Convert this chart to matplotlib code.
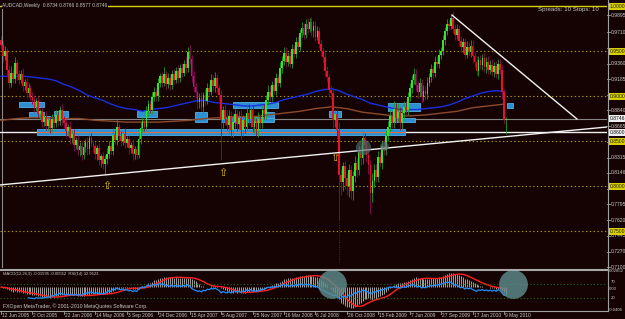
import matplotlib
matplotlib.use("Agg")
import matplotlib.pyplot as plt
from matplotlib.lines import Line2D
from matplotlib.patches import Rectangle
from matplotlib.transforms import blended_transform_factory
import numpy as np
import pandas as pd

plt.rcParams['font.family'] = ['Liberation Sans', 'DejaVu Sans']

# ---------------- data (AUDCAD weekly, one row = 16 weeks) ----------------
first_date = "2005-06-12"
first_open = 0.962
closes = [
    0.957, 0.944, 0.950, 0.929, 0.915, 0.926, 0.919, 0.937, 0.924, 0.918, 0.925, 0.911, 0.916, 0.903, 0.909, 0.899,
    0.896, 0.888, 0.894, 0.880, 0.883, 0.871, 0.877, 0.867, 0.873, 0.864, 0.875, 0.870, 0.879, 0.872, 0.884, 0.874,
    0.870, 0.861, 0.866, 0.853, 0.858, 0.846, 0.851, 0.840, 0.845, 0.834, 0.843, 0.849, 0.841, 0.853, 0.847, 0.844,
    0.836, 0.842, 0.829, 0.833, 0.824, 0.830, 0.836, 0.845, 0.839, 0.857, 0.851, 0.866, 0.856, 0.850, 0.858, 0.848,
    0.852, 0.842, 0.846, 0.836, 0.841, 0.835, 0.852, 0.864, 0.872, 0.866, 0.883, 0.891, 0.885, 0.899, 0.905, 0.900,
    0.914, 0.922, 0.915, 0.925, 0.913, 0.920, 0.912, 0.924, 0.918, 0.928, 0.920, 0.931, 0.926, 0.936, 0.931, 0.949,
    0.941, 0.922, 0.910, 0.904, 0.893, 0.898, 0.888, 0.901, 0.895, 0.909, 0.905, 0.918, 0.911, 0.920, 0.909, 0.901,
    0.873, 0.884, 0.875, 0.868, 0.878, 0.862, 0.871, 0.880, 0.869, 0.876, 0.862, 0.873, 0.866, 0.881, 0.874, 0.884,
    0.866, 0.872, 0.861, 0.875, 0.870, 0.885, 0.880, 0.896, 0.905, 0.899, 0.912, 0.906, 0.920, 0.915, 0.931, 0.939,
    0.948, 0.938, 0.944, 0.936, 0.952, 0.947, 0.960, 0.955, 0.970, 0.976, 0.968, 0.980, 0.975, 0.982, 0.972, 0.978,
    0.966, 0.972, 0.958, 0.950, 0.943, 0.928, 0.921, 0.907, 0.903, 0.873, 0.880, 0.862, 0.812, 0.804, 0.822, 0.809,
    0.800, 0.818, 0.794, 0.811, 0.826, 0.818, 0.838, 0.831, 0.853, 0.846, 0.835, 0.823, 0.792, 0.806, 0.818, 0.810,
    0.832, 0.826, 0.845, 0.840, 0.856, 0.866, 0.878, 0.871, 0.886, 0.876, 0.882, 0.870, 0.881, 0.888, 0.884, 0.899,
    0.909, 0.918, 0.924, 0.912, 0.905, 0.914, 0.899, 0.906, 0.902, 0.915, 0.921, 0.930, 0.926, 0.938, 0.936, 0.946,
    0.950, 0.962, 0.972, 0.980, 0.978, 0.987, 0.975, 0.968, 0.974, 0.961, 0.954, 0.960, 0.946, 0.955, 0.949, 0.956,
    0.944, 0.938, 0.928, 0.940, 0.935, 0.942, 0.932, 0.938, 0.929, 0.935, 0.927, 0.933, 0.925, 0.936, 0.929, 0.905,
    0.8734, 0.8746,
]
# wick lengths above / below the body, in thousandths
wick_up = [
    5, 4, 6, 3, 5, 7, 4, 6, 3, 5, 4, 6, 3, 4, 5, 3,
    5, 3, 4, 6, 3, 5, 4, 6, 3, 4, 5, 3, 6, 4, 5, 7,
    4, 5, 3, 6, 4, 5, 3, 6, 4, 5, 6, 3, 5, 4, 6, 3,
    5, 4, 6, 3, 5, 4, 6, 5, 4, 7, 5, 8, 4, 5, 3, 6,
    4, 5, 3, 6, 4, 5, 6, 7, 5, 4, 6, 5, 3, 6, 5, 4,
    6, 4, 5, 7, 3, 6, 4, 5, 6, 4, 7, 5, 6, 4, 7, 5,
    8, 5, 6, 4, 3, 5, 6, 4, 7, 5, 4, 6, 5, 7, 4, 3,
    6, 5, 7, 10, 6, 5, 8, 6, 5, 7, 8, 6, 5, 7, 10, 6,
    5, 6, 4, 7, 5, 4, 6, 5, 7, 6, 5, 8, 6, 5, 7, 6,
    6, 7, 5, 6, 6, 5, 6, 7, 5, 6, 5, 6, 7, 5, 6, 5,
    5, 6, 5, 4, 5, 6, 5, 4, 5, 7, 5, 6, 9, 7, 5, 6,
    6, 7, 5, 6, 7, 5, 6, 8, 7, 6, 5, 7, 6, 8, 7, 6,
    7, 6, 5, 7, 6, 6, 7, 5, 8, 6, 10, 6, 5, 7, 6, 5,
    6, 5, 7, 6, 5, 6, 5, 6, 5, 6, 5, 6, 5, 6, 7, 6,
    5, 6, 5, 6, 5, 3, 6, 5, 6, 5, 6, 5, 5, 6, 5, 6,
    6, 5, 6, 5, 6, 5, 6, 5, 6, 5, 6, 5, 6, 5, 5, 6,
    3, 2,
]
wick_dn = [
    5, 6, 4, 7, 6, 5, 4, 5, 6, 5, 4, 5, 4, 5, 4, 5,
    5, 6, 5, 4, 6, 5, 4, 5, 6, 5, 4, 5, 4, 5, 4, 6,
    5, 6, 5, 6, 5, 7, 5, 6, 7, 5, 4, 5, 6, 5, 4, 6,
    6, 7, 6, 8, 5, 12, 6, 5, 4, 5, 4, 5, 6, 5, 4, 6,
    5, 6, 5, 7, 6, 5, 4, 5, 4, 5, 4, 5, 4, 5, 4, 5,
    5, 4, 5, 4, 5, 4, 5, 4, 5, 4, 5, 4, 5, 4, 5, 4,
    5, 6, 5, 6, 7, 6, 5, 7, 5, 4, 5, 4, 5, 6, 5, 7,
    44, 8, 7, 6, 10, 8, 7, 6, 8, 7, 10, 6, 7, 5, 6, 8,
    6, 7, 5, 6, 5, 6, 5, 6, 5, 4, 5, 4, 5, 4, 5, 5,
    5, 6, 5, 4, 5, 4, 5, 4, 5, 4, 5, 4, 5, 4, 5, 6,
    5, 4, 5, 6, 5, 6, 5, 7, 6, 8, 7, 10, 50, 14, 10, 12,
    10, 12, 8, 10, 7, 8, 6, 8, 7, 6, 8, 10, 23, 10, 7, 6,
    6, 5, 7, 6, 5, 6, 5, 6, 7, 6, 5, 8, 7, 5, 6, 5,
    5, 6, 5, 6, 7, 5, 6, 5, 6, 5, 4, 5, 6, 5, 4, 5,
    5, 4, 5, 4, 5, 4, 5, 6, 5, 4, 5, 6, 5, 4, 5, 6,
    7, 6, 5, 6, 5, 6, 5, 6, 5, 4, 5, 6, 5, 6, 5, 8,
    5, 16,
]
spike_bar, spike_low = 172, 0.716

# moving averages (blue every 4 bars, brown every 8 bars)
ma_blue = [
    0.922, 0.922, 0.922, 0.922, 0.921, 0.920, 0.919, 0.917,
    0.913, 0.910, 0.906, 0.901, 0.898, 0.895, 0.891, 0.888,
    0.886, 0.885, 0.883, 0.885, 0.886, 0.887, 0.889, 0.891,
    0.893, 0.895, 0.895, 0.893, 0.892, 0.891, 0.890, 0.889,
    0.889, 0.890, 0.891, 0.893, 0.896, 0.898, 0.900, 0.902,
    0.905, 0.907, 0.908, 0.906, 0.902, 0.899, 0.896, 0.892,
    0.890, 0.888, 0.886, 0.885, 0.885, 0.885, 0.886, 0.887,
    0.888, 0.890, 0.893, 0.897, 0.900, 0.903, 0.905, 0.906,
    0.905,
]
ma_brown = [
    0.873, 0.875, 0.876, 0.876, 0.875, 0.875, 0.873, 0.872,
    0.871, 0.871, 0.871, 0.872, 0.873, 0.875, 0.876, 0.877,
    0.877, 0.879, 0.881, 0.883, 0.886, 0.888, 0.886, 0.882,
    0.880, 0.878, 0.878, 0.879, 0.881, 0.883, 0.887, 0.889,
    0.891,
]

round_levels = [1.00, 0.95, 0.90, 0.85, 0.80, 0.75]
support_level = 0.8600
price_ticks = [0.9895, 0.9710, 0.9535, 0.9360, 0.9185, 0.9010, 0.8840, 0.8665, 0.8490,
               0.8315, 0.8146, 0.7970, 0.7795, 0.7620, 0.7445, 0.7270, 0.7100]

# zones: (first bar, last bar, top, bottom)
zones = [
    (9.2, 21.9, 0.8934, 0.8878), (14.2, 21.9, 0.8823, 0.8767), (21.4, 24.9, 0.8778, 0.8745),
    (27.0, 34.1, 0.8834, 0.8767), (69.2, 79.4, 0.8834, 0.8767), (98.7, 104.8, 0.8823, 0.8712),
    (118.1, 141.0, 0.8934, 0.8867), (112.0, 138.9, 0.8767, 0.8712), (134.4, 139.0, 0.8823, 0.8756),
    (166.9, 173.0, 0.8834, 0.8767), (196.9, 213.2, 0.8923, 0.8834), (198.0, 210.7, 0.8756, 0.8712),
    (257.5, 260.6, 0.8923, 0.8867),
]
band = (18.3, 205.6, 0.8634, 0.8567)
trend_up = [(-0.5, 0.8012), (308.4, 0.8656)]
trend_down = [(229.5, 0.9900), (293.1, 0.8745)]
arrows = [(54.0, 0.8001), (113.0, 0.8145), (170.0, 0.8312)]
blobs = [(184.3, 0.8434, 120), (195.0, 0.8445, 40)]
macd_circles = [168.4, 260.6]

# ---------------- style ----------------
BG = '#150303'
AXC = '#a0a0a0'
TXT = '#c8c8c8'
BULL, BULL_W = '#2ee62e', '#18a018'
BEAR, BEAR_W = '#e8102a', '#8a0a5a'
YEL = '#d8d000'
ZONE, ZONE_E = '#2e8fd0', '#55b0e8'

W, H = 625, 319
def fx(px):
    return px / W
def fy(py):
    return 1 - py / H

fig = plt.figure(figsize=(6.25, 3.19), dpi=100, facecolor=BG)
ax = fig.add_axes([0, fy(268), fx(607), (268 - 2) / H])
ax.set_facecolor(BG)
ax.set_xlim(-0.509, 308.4)
ax.set_ylim(0.7089, 1.0045)
ax.axis('off')

n = len(closes)
idx = np.arange(n)
c = np.array(closes)
o = np.r_[first_open, c[:-1]]
hi = np.maximum(o, c) + np.array(wick_up) / 1000
lo = np.minimum(o, c) - np.array(wick_dn) / 1000
up = c >= o

# zones behind candles
for x0, x1, top, bot in zones:
    ax.add_patch(Rectangle((x0, bot), x1 - x0, top - bot, fc=ZONE, ec=ZONE_E, lw=0.6, zorder=1))
ax.add_patch(Rectangle((band[0], band[3]), band[1] - band[0], band[2] - band[3],
                       fc=ZONE, ec=ZONE_E, lw=0.6, zorder=1))

# horizontal levels
for lvl in round_levels:
    if lvl == 1.00:
        ax.axhline(lvl, color=YEL, lw=1.0, zorder=0.5)
    else:
        ax.axhline(lvl, color='#a89a00', lw=0.8, ls=(0, (1.2, 2.2)), zorder=0.5)
ax.axhline(support_level, color='#f0f0f0', lw=1.0, zorder=0.8)
ax.plot([band[0], band[1]], [support_level, support_level], color='#e07040', lw=0.8, zorder=1.5)
ax.axhline(closes[-1], color='#858585', lw=0.8, zorder=0.6)
ax.axvline(0.35, color='#8a8a8a', lw=0.8, zorder=0.6)

# moving averages
ax.plot(np.arange(0, n, 8)[:len(ma_brown)], ma_brown, color='#8c4a2c', lw=1.0, zorder=2)
ax.plot(np.arange(0, n, 4)[:len(ma_blue)], ma_blue, color='#1a2ee0', lw=1.0, zorder=2)

# candles
ax.vlines(idx[up], lo[up], hi[up], color=BULL_W, lw=0.6, zorder=3)
ax.vlines(idx[~up], lo[~up], hi[~up], color=BEAR_W, lw=0.6, zorder=3)
body_b = np.minimum(o, c)
body_h = np.maximum(np.abs(c - o), 0.0008)
ax.bar(idx[up], body_h[up], bottom=body_b[up], width=0.85, color=BULL, lw=0, zorder=4)
ax.bar(idx[~up], body_h[~up], bottom=body_b[~up], width=0.85, color=BEAR, lw=0, zorder=4)
ax.vlines(spike_bar, spike_low, lo[spike_bar], color='#a0005a', lw=0.7, ls=(0, (1, 1.5)), zorder=3)

# trendlines
for line in (trend_up, trend_down):
    ax.plot([p[0] for p in line], [p[1] for p in line], color='#f2f2f2', lw=1.0, zorder=5)

# arrows and blobs
for bx, py in arrows:
    ax.text(bx, py, '\u21e7', color='#d8c000', fontsize=8, ha='center', va='center',
            family=['DejaVu Sans'], zorder=6)
for bx, py, s in blobs:
    ax.scatter([bx], [py], s=s, color='#4d6d6d', alpha=0.65, lw=0, zorder=5)

# right price scale (ticks hidden under a coloured label are skipped)
tr = blended_transform_factory(ax.transAxes, ax.transData)
marked = round_levels + [closes[-1], support_level]
for p in price_ticks:
    ax.plot([1.0, 1.005], [p, p], color=AXC, lw=0.6, transform=tr, clip_on=False)
    if min(abs(p - m) for m in marked) < 0.005:
        continue
    ax.text(1.006, p, f'{p:.4f}', color=TXT, fontsize=3.6, va='center', ha='left', transform=tr)
for lvl in round_levels:
    ax.text(1.005, lvl, f'{lvl:.4f}', color='#202000', fontsize=3.6, va='center', ha='left',
            transform=tr, zorder=10,
            bbox=dict(boxstyle='square,pad=0.2', fc=YEL, ec='none'))
for lvl in (closes[-1], support_level):
    ax.text(1.005, lvl, f'{lvl:.4f}', color='#101010', fontsize=3.6, va='center', ha='left',
            transform=tr, zorder=10,
            bbox=dict(boxstyle='square,pad=0.2', fc='#f0f0f0', ec='none'))

ax.text(0.004, fy(5.5), 'AUDCAD,Weekly  0.8734 0.8766 0.8577 0.8746', transform=fig.transFigure,
        color=TXT, fontsize=3.5, va='center', ha='left', zorder=10,
        bbox=dict(boxstyle='square,pad=0.15', fc=BG, ec='none'))
fig.text(fx(538), fy(10), 'Spreads: 10 Stops: 10', color=TXT, fontsize=4.4, va='center', ha='left')

# ---------------- MACD / RSI window ----------------
s = pd.Series(closes)
macd = s.ewm(span=12, adjust=False).mean() - s.ewm(span=26, adjust=False).mean()
signal = macd.rolling(9, min_periods=1).mean()
delta = s.diff()
gain = delta.clip(lower=0).ewm(alpha=1 / 14, adjust=False, min_periods=14).mean()
loss = (-delta.clip(upper=0)).ewm(alpha=1 / 14, adjust=False, min_periods=14).mean()
rsi = 100 - 100 / (1 + gain / loss)

axm = fig.add_axes([0, fy(310), fx(607), (310 - 271) / H])
axm.set_facecolor(BG)
axm.set_xlim(ax.get_xlim())
axm.set_ylim(-0.0406, 0.02852)
axm.axis('off')
axm.vlines(idx, 0, macd, color='#b8b8b8', lw=0.6, zorder=2)
axm.plot(idx, signal, color='#ff2020', lw=1.0, zorder=4)

axr = axm.twinx()
axr.set_xlim(ax.get_xlim())
axr.set_ylim(-20, 113.3)
axr.axis('off')
for lvl in (70, 20):
    axr.axhline(lvl, color='#1f6a1f', lw=0.8, ls=(0, (1, 2)), zorder=1)
axr.plot(idx, rsi, color='#1e90ff', lw=0.9, zorder=3)
axr.scatter(macd_circles, [69, 69], s=430, color='#5f8f8f', alpha=0.8, lw=0, zorder=6)

mtr = blended_transform_factory(axm.transAxes, axm.transData)
axm.text(1.003, 0.02852, '0.02852', color=TXT, fontsize=3.1, va='center', ha='left', transform=mtr)
axm.text(1.003, 0.0, '0.00', color=TXT, fontsize=3.1, va='top', ha='left', transform=mtr)
axm.text(1.003, -0.0406, '-0.0406', color=TXT, fontsize=3.1, va='center', ha='left', transform=mtr)
rtr = blended_transform_factory(axr.transAxes, axr.transData)
axr.text(1.006, 70, '70', color=TXT, fontsize=3.1, va='bottom', ha='left', transform=rtr)
axr.text(1.006, 20, '20', color=TXT, fontsize=3.1, va='center', ha='left', transform=rtr)

fig.text(fx(3), fy(274), 'MACD(12,26,9) -0.01595 -0.00552  RSI(14) 32.9523', color=TXT,
         fontsize=3.0, va='center', ha='left')
fig.text(fx(3), fy(306), 'FXOpen MetaTrader, \u00a9 2001-2010 MetaQuotes Software Corp.', color=TXT,
         fontsize=3.7, va='center', ha='left')

# frame lines
fig.add_artist(Line2D([0, fx(607.5)], [fy(269.5)] * 2, color='#a8a8a8', lw=1.5))
fig.add_artist(Line2D([0, fx(607.5)], [fy(311)] * 2, color=AXC, lw=0.8))
fig.add_artist(Line2D([fx(607.5)] * 2, [fy(0), fy(311)], color=AXC, lw=0.8))

# date labels
dates = pd.date_range(first_date, periods=n, freq='7D')
xtr = blended_transform_factory(axm.transData, fig.transFigure)
for i in range(0, n, 16):
    fig.add_artist(Line2D([i, i], [fy(311), fy(313.5)], color=AXC, lw=0.6, transform=xtr))
    fig.text(i + 0.5, fy(315.5), f'{dates[i].day} {dates[i]:%b %Y}', transform=xtr,
             color=TXT, fontsize=3.5, va='center', ha='left')

fig.savefig('out.png', dpi=100, facecolor=BG)
